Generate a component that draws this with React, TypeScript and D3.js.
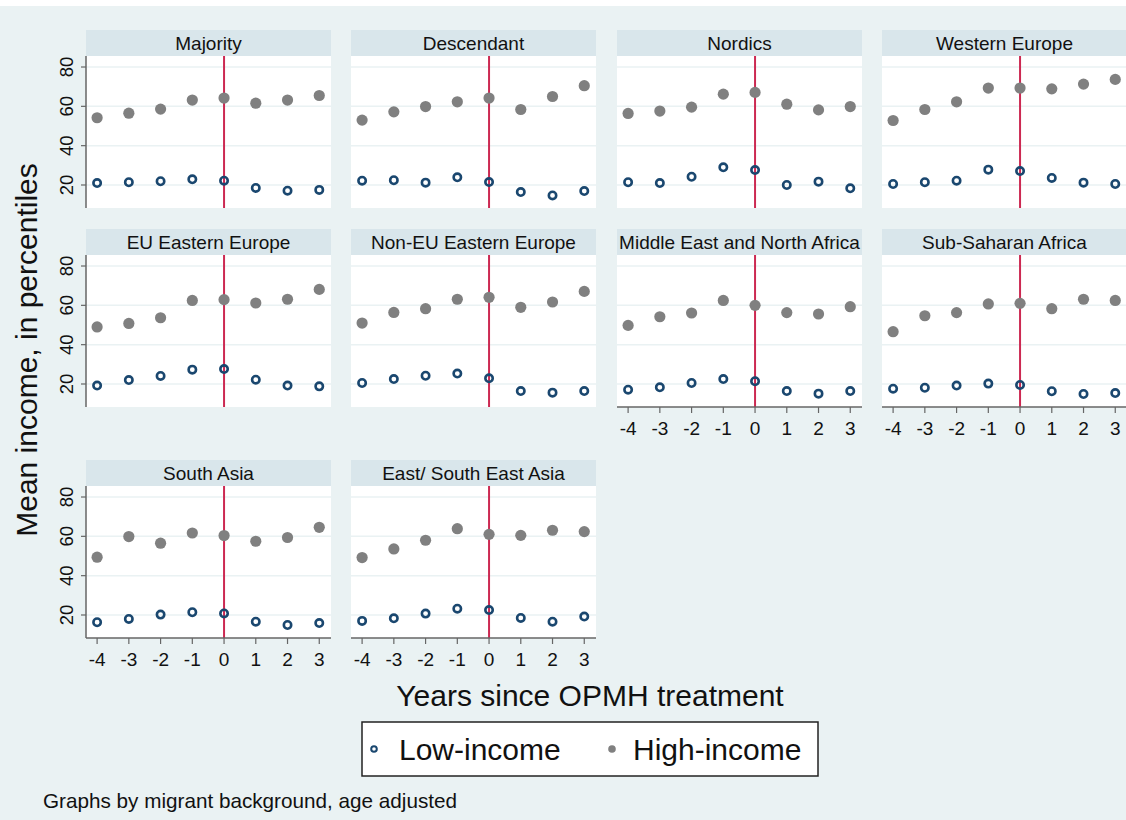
import React from 'react';
import * as d3 from 'd3';

// migrant background groups, one panel each
const groups = [
  'Majority',
  'Descendant',
  'Nordics',
  'Western Europe',
  'EU Eastern Europe',
  'Non-EU Eastern Europe',
  'Middle East and North Africa',
  'Sub-Saharan Africa',
  'South Asia',
  'East/ South East Asia',
];

const years = [-4, -3, -2, -1, 0, 1, 2, 3];
const yTicks = [20, 40, 60, 80];

// mean income percentile, low-income group
const lowIncome = [
  [21.0, 21.4, 21.9, 22.9, 22.2, 18.5, 17.1, 17.5],
  [22.2, 22.4, 21.2, 23.9, 21.5, 16.4, 14.7, 16.9],
  [21.4, 21.0, 24.2, 29.0, 27.6, 20.0, 21.7, 18.3],
  [20.5, 21.4, 22.2, 27.8, 27.1, 23.6, 21.2, 20.5],
  [19.2, 22.0, 24.1, 27.3, 27.6, 22.2, 19.2, 18.8],
  [20.5, 22.5, 24.2, 25.3, 22.9, 16.4, 15.6, 16.4],
  [17.1, 18.3, 20.5, 22.5, 21.4, 16.4, 15.1, 16.4],
  [17.6, 18.1, 19.2, 20.2, 19.5, 16.3, 14.9, 15.4],
  [16.3, 18.0, 20.2, 21.4, 20.8, 16.6, 14.9, 15.9],
  [17.0, 18.3, 20.7, 23.2, 22.5, 18.5, 16.6, 19.2],
];

// mean income percentile, high-income group
const highIncome = [
  [54.2, 56.5, 58.6, 63.2, 64.2, 61.6, 63.2, 65.5],
  [53.0, 57.2, 59.9, 62.3, 64.2, 58.4, 65.0, 70.5],
  [56.4, 57.6, 59.6, 66.2, 67.1, 61.1, 58.2, 59.9],
  [52.8, 58.4, 62.3, 69.3, 69.3, 68.9, 71.3, 73.7],
  [49.0, 50.8, 53.7, 62.5, 62.9, 61.2, 63.1, 68.1],
  [51.0, 56.4, 58.3, 63.1, 64.1, 59.0, 61.7, 67.1],
  [49.8, 54.2, 56.1, 62.5, 60.0, 56.3, 55.6, 59.3],
  [46.6, 54.7, 56.3, 60.7, 61.0, 58.3, 63.1, 62.5],
  [49.4, 59.9, 56.5, 61.7, 60.4, 57.5, 59.4, 64.6],
  [49.2, 53.6, 58.0, 63.9, 61.0, 60.5, 63.1, 62.4],
];

const W = 1126;
const H = 820;
const FONT = '"Liberation Sans", Arial, sans-serif';
const BG = '#eaf2f3';
const STRIP = '#d9e6eb';
const NAVY = '#1a476f';
const GREY = '#808080';
const RED = '#cc2952';
const AXIS = '#666666';

const colX = [86, 351, 617, 882];
const rowTop = [30, 229, 460];
const panelW = 245;
const stripH = 26;
const plotH = 152;

// which panels show which axes
const withXAxis = [6, 7, 8, 9];
const withYAxis = [0, 4, 8];

const Panel: React.FC<{ i: number }> = ({ i }) => {
  const col = i % 4;
  const row = Math.floor(i / 4);
  const x0 = colX[col];
  const top = rowTop[row] + stripH;
  const bottom = top + plotH;

  const x = d3.scaleLinear().domain([-4.35, 3.37]).range([x0, x0 + panelW]);
  const y = d3.scaleLinear().domain([8.3, 85.6]).range([bottom, top]);

  return (
    <g>
      <rect x={x0} y={rowTop[row]} width={panelW} height={stripH} fill={STRIP} />
      <text
        x={x0 + panelW / 2}
        y={rowTop[row] + 20}
        textAnchor="middle"
        fontSize={19}
        fill="#111"
      >
        {groups[i]}
      </text>
      <rect x={x0} y={top} width={panelW} height={plotH} fill="#fff" />
      {yTicks.map((t) => (
        <line
          key={t}
          x1={x0}
          x2={x0 + panelW}
          y1={y(t)}
          y2={y(t)}
          stroke={BG}
          strokeWidth={1.5}
        />
      ))}
      <line x1={x(0)} x2={x(0)} y1={top} y2={bottom} stroke={RED} strokeWidth={2} />
      {years.map((yr, k) => (
        <circle key={'h' + yr} cx={x(yr)} cy={y(highIncome[i][k])} r={5.6} fill={GREY} />
      ))}
      {years.map((yr, k) => (
        <circle
          key={'l' + yr}
          cx={x(yr)}
          cy={y(lowIncome[i][k])}
          r={3.7}
          fill="none"
          stroke={NAVY}
          strokeWidth={2.6}
        />
      ))}
      {withYAxis.includes(i) && (
        <g>
          <line x1={x0} x2={x0} y1={top} y2={bottom} stroke={AXIS} strokeWidth={1.5} />
          {yTicks.map((t) => (
            <g key={t}>
              <line x1={x0 - 5} x2={x0} y1={y(t)} y2={y(t)} stroke={AXIS} strokeWidth={1.2} />
              <text
                transform={`translate(${x0 - 13},${y(t)}) rotate(-90)`}
                textAnchor="middle"
                fontSize={18.5}
                fill="#111"
              >
                {t}
              </text>
            </g>
          ))}
        </g>
      )}
      {withXAxis.includes(i) && (
        <g>
          <line x1={x0} x2={x0 + panelW} y1={bottom} y2={bottom} stroke={AXIS} strokeWidth={1.5} />
          {years.map((yr) => (
            <g key={yr}>
              <line x1={x(yr)} x2={x(yr)} y1={bottom} y2={bottom + 6} stroke={AXIS} strokeWidth={1.2} />
              <text x={x(yr)} y={bottom + 28} textAnchor="middle" fontSize={19} fill="#111">
                {yr}
              </text>
            </g>
          ))}
        </g>
      )}
    </g>
  );
};

export default function App() {
  return (
    <svg
      width={W}
      height={H}
      style={{ position: 'absolute', left: 0, top: 0 }}
      fontFamily={FONT}
    >
      <rect width={W} height={H} fill="#fff" />
      <rect y={6} width={W} height={H - 6} fill={BG} />
      {groups.map((g, i) => (
        <Panel key={g} i={i} />
      ))}
      <text
        transform="translate(37,350) rotate(-90)"
        textAnchor="middle"
        fontSize={30}
        fill="#111"
      >
        Mean income, in percentiles
      </text>
      <text x={590} y={706} textAnchor="middle" fontSize={30} fill="#111">
        Years since OPMH treatment
      </text>
      <rect x={362} y={722} width={456} height={54} fill="#fff" stroke="#222" strokeWidth={1.5} />
      <circle cx={374} cy={749} r={2.8} fill="none" stroke={NAVY} strokeWidth={2} />
      <text x={399} y={760} fontSize={30} fill="#111">
        Low-income
      </text>
      <circle cx={612} cy={749} r={3.8} fill={GREY} />
      <text x={633} y={760} fontSize={30} fill="#111">
        High-income
      </text>
      <text x={43} y={808} fontSize={20.7} fill="#111">
        Graphs by migrant background, age adjusted
      </text>
    </svg>
  );
}
